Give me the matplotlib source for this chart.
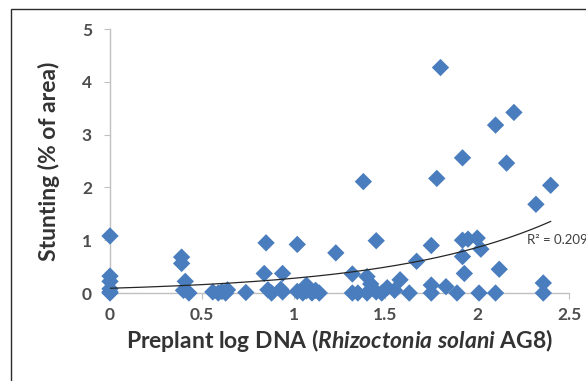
import numpy as np
import matplotlib
matplotlib.use("Agg")
import matplotlib.pyplot as plt
from matplotlib.patches import Rectangle

plt.rcParams['font.family'] = ['Lato', 'DejaVu Sans']
plt.rcParams['mathtext.fontset'] = 'custom'
plt.rcParams['mathtext.rm'] = 'Lato:bold'
plt.rcParams['mathtext.it'] = 'Lato:bold:italic'
plt.rcParams['mathtext.bf'] = 'Lato:bold'

# Preplant log DNA values (x) and stunting (% of area) (y)
log_dna = [0, 0, 0, 0, 0, 0,
           0.39, 0.39, 0.41, 0.40, 0.43,
           0.56, 0.59, 0.61, 0.63, 0.64, 0.74,
           0.85, 0.84, 0.86, 0.88, 0.93, 0.94, 0.94,
           1.02, 1.02, 1.05, 1.07, 1.07, 1.10, 1.12, 1.14,
           1.23, 1.32, 1.32, 1.35, 1.38, 1.40, 1.42, 1.40, 1.45, 1.45, 1.48,
           1.51, 1.55, 1.58, 1.63, 1.67,
           1.75, 1.75, 1.75, 1.78, 1.80, 1.83, 1.89, 1.92, 1.92, 1.92, 1.93,
           1.95, 2.00, 2.02, 2.01, 2.10, 2.10, 2.12, 2.16, 2.20, 2.32, 2.36,
           2.36, 2.40]
stunting = [1.08, 0.32, 0.22, 0.08, 0.00, 0.02,
            0.68, 0.56, 0.22, 0.05, 0.00,
            0.02, 0.00, 0.03, 0.00, 0.06, 0.01,
            0.95, 0.37, 0.06, 0.00, 0.07, 0.37, 0.02,
            0.92, 0.03, 0.00, 0.15, 0.04, 0.00, 0.05, 0.00,
            0.76, 0.36, 0.00, 0.00, 2.11, 0.31, 0.17, 0.00, 0.99, 0.02, 0.00,
            0.10, 0.05, 0.25, 0.00, 0.60,
            0.90, 0.15, 0.00, 2.17, 4.27, 0.12, 0.00, 2.56, 1.00, 0.69, 0.37,
            1.02, 1.04, 0.83, 0.00, 3.18, 0.00, 0.45, 2.46, 3.42, 1.68, 0.19,
            0.00, 2.04]

# Exponential trendline y = a*exp(b*x)
trend_a = 0.09
trend_b = 1.13
trend_range = [0.0, 2.4]
r2_label = "R² = 0.209"

x_ticks = [0, 0.5, 1, 1.5, 2, 2.5]
x_ticklabels = ["0", "0.5", "1", "1.5", "2", "2.5"]
y_ticks = [0, 1, 2, 3, 4, 5]

W, H = 586, 381
fig = plt.figure(figsize=(W / 100, H / 100), dpi=100)
fig.patch.set_facecolor('white')

# outer chart border
fig.patches.append(Rectangle((11 / W, -0.1), 1.2, 1 - 9 / H + 0.1,
                             transform=fig.transFigure, fill=False,
                             edgecolor='#2b2b2b', linewidth=1.0))

ax = fig.add_axes([110 / W, 1 - 293 / H, (569 - 110) / W, (293 - 29) / H])
ax.set_xlim(0, 2.5)
ax.set_ylim(0, 5)

ax.scatter(log_dna, stunting, marker='D', s=78, color='#4a7dbd',
           edgecolors='none', zorder=3, clip_on=False)

xt = np.linspace(trend_range[0], trend_range[1], 200)
ax.plot(xt, trend_a * np.exp(trend_b * xt), color='#262626', lw=0.9, zorder=4)
ax.text(2.27, 1.0, r2_label, fontsize=9.5, color='#404040', va='center',
        ha='left', clip_on=False)

for s in ['top', 'right']:
    ax.spines[s].set_visible(False)
for s in ['left', 'bottom']:
    ax.spines[s].set_color('#c0c0c0')
    ax.spines[s].set_linewidth(1.0)

ax.set_xticks(x_ticks)
ax.set_xticklabels(x_ticklabels)
ax.set_yticks(y_ticks)
ax.tick_params(axis='both', colors='#c0c0c0', labelcolor='#4d4d4d',
               labelsize=12.5, length=4, width=0.8, direction='out')
ax.tick_params(axis='y', pad=9)
ax.tick_params(axis='x', pad=6)
for lbl in ax.get_xticklabels() + ax.get_yticklabels():
    lbl.set_fontweight('bold')

ax.set_xlabel(r"Preplant log DNA ($\mathit{Rhizoctonia\ solani}$ AG8)",
              fontsize=16.5, fontweight='bold', color='#333333', labelpad=3)
ax.set_ylabel("Stunting (% of area)", fontsize=16.5, fontweight='bold',
              color='#333333', labelpad=16)

fig.savefig("out.png", dpi=100)
